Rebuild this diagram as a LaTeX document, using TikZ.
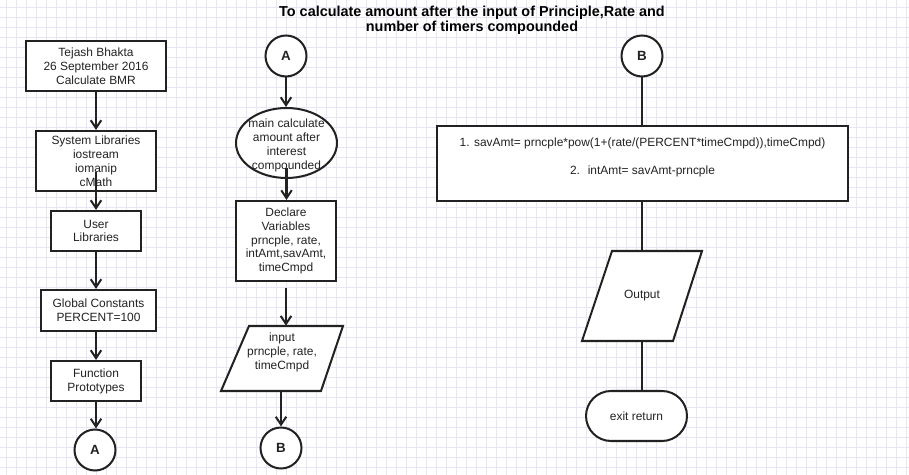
\documentclass[tikz,border=0pt]{standalone}
\usepackage{fontspec}
\setmainfont{Liberation Sans}
\usetikzlibrary{shapes.geometric,arrows.meta,calc}

\definecolor{gridcol}{RGB}{232,230,246}
\definecolor{inkcol}{RGB}{34,34,34}

\begin{document}
\begin{tikzpicture}[x=0.02cm, y=-0.02cm,
  every node/.style={font=\fontsize{6.8}{7.9}\selectfont, text=inkcol},
  box/.style={draw=inkcol, fill=white, line width=1.15pt, align=center, inner sep=1pt},
  conn/.style={circle, draw=inkcol, fill=white, line width=1.15pt, minimum size=0.82cm, inner sep=0pt, font=\fontsize{7.6}{8}\selectfont\bfseries},
  oval/.style={ellipse, draw=inkcol, fill=white, line width=1.15pt, minimum width=2.02cm, minimum height=1.4cm, inner sep=0pt},
  iotext/.style={rectangle, align=center, inner sep=0pt},
  shapeline/.style={draw=inkcol, fill=white, line width=1.15pt, line join=miter},
  flow/.style={draw=inkcol, line width=1.15pt, -{Straight Barb[length=4.5pt,width=6pt]}},
  link/.style={draw=inkcol, line width=1.15pt},
  gridline/.style={draw=gridcol, line width=0.5pt}]
  \useasboundingbox (0,0) rectangle (909,475);
  % background grid
  \foreach \gx in {6,16,...,906} \draw[gridline] (\gx,0) -- (\gx,475);
  \foreach \gy in {7,17,...,467} \draw[gridline] (0,\gy) -- (909,\gy);

  \node[font=\fontsize{8.2}{8.6}\selectfont\bfseries, text=black, align=center] (title) at (472,20)
    {To calculate amount after the input of Principle,Rate and\\number of timers compounded};

  % left column
  \node[box, minimum width=2.8cm, minimum height=1cm] (author) at (96,66) {Tejash Bhakta\\26 September 2016\\Calculate BMR};
  \node[box, minimum width=2.4cm, minimum height=1.2cm] (syslib) at (96,161) {System Libraries\\iostream\\iomanip\\cMath};
  \node[box, minimum width=1.8cm, minimum height=0.8cm] (userlib) at (96,231) {User\\Libraries};
  \node[box, minimum width=2.3cm, minimum height=0.82cm] (globconst) at (98.5,310.5) {Global Constants\\PERCENT=100};
  \node[box, minimum width=1.8cm, minimum height=0.8cm] (protos) at (96,381) {Function\\Prototypes};
  \node[conn] (endA) at (95,450) {A};

  \draw[flow] (author) -- (syslib);
  \draw[flow] ($(syslib.south)+(0,-20)$) -- (userlib.north);
  \draw[flow] (userlib.south) -- (userlib.south |- globconst.north);
  \draw[flow] (protos.north |- globconst.south) -- (protos.north);
  \draw[flow] (protos.south) -- (protos.south |- endA.north);

  % middle column
  \node[conn] (startA) at (286,56) {A};
  \node[oval, label={[align=center, yshift=-1.4pt]center:main calculate\\amount after\\interest\\compounded}] (mainfn) at (286.5,143) {};
  \node[box, minimum width=2cm, minimum height=1.6cm] (declvars) at (286,241) {Declare\\Variables\\prncple, rate,\\intAmt,savAmt,\\timeCmpd};
  \draw[shapeline] (249,326) -- (343,326) -- (321,391) -- (221,391) -- cycle;
  \node[iotext, minimum width=2.42cm, minimum height=1.3cm, text depth=8.2pt] (inputvals) at (282,358.5) {input\\prncple, rate,\\timeCmpd};
  \node[conn] (endB) at (281,448) {B};

  \draw[flow] (startA) -- (startA |- mainfn.north);
  \draw[flow] ($(mainfn.south)+(0,-11)$) -- (mainfn.south |- declvars.north);
  \draw[flow] ($(declvars.south)+(0,6)$) -- (declvars.south |- inputvals.north);
  \draw[flow] (endB |- inputvals.south) -- (endB.north);

  % right column
  \node[conn] (startB) at (642,56) {B};
  \node[box, minimum width=8.22cm, minimum height=1.5cm, text depth=8.2pt] (compute) at (642.5,163.5)
    {1. savAmt= prncple*pow(1+(rate/(PERCENT*timeCmpd)),timeCmpd)\\[8pt]2.~ intAmt= savAmt-prncple};
  \draw[shapeline] (612,251) -- (702,251) -- (673,341) -- (582,341) -- cycle;
  \node[iotext, minimum width=2.4cm, minimum height=1.8cm] (output) at (642,296) {Output};
  \node[box, rounded corners=0.5cm, minimum width=2.02cm, minimum height=1cm] (exitret) at (636.5,416) {exit return};

  \draw[link] (startB) -- (startB |- compute.north);
  \draw[link] (compute.south -| startB) -- (output.north -| startB);
  \draw[link] (output.south -| startB) -- (exitret.north -| startB);
\end{tikzpicture}
\end{document}
